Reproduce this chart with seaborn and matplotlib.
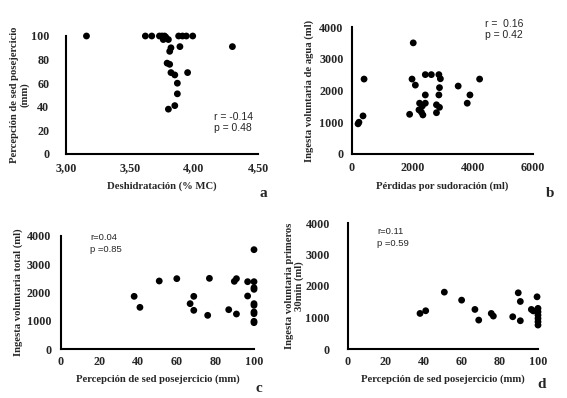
import numpy as np
import pandas as pd
import seaborn as sns
import matplotlib.pyplot as plt
from matplotlib.ticker import FuncFormatter

# panel a: deshidratacion vs percepcion de sed
deshid = [3.16, 3.62, 3.67, 3.73, 3.75, 3.77, 3.76, 3.78, 3.80, 3.88, 3.91, 3.94, 3.99,
          3.89, 4.30, 3.81, 3.82, 3.79, 3.81, 3.82, 3.85, 3.95, 3.87, 3.87, 3.85, 3.80]
sed_a = [100, 100, 100, 100, 100, 100, 97, 99, 97, 100, 100, 100, 100,
         91, 91, 87, 90, 77, 76, 69, 67, 69, 60, 51, 41, 38]

# panel b: perdidas por sudoracion vs ingesta de agua
perdidas = [200, 230, 365, 400, 1910, 2030, 1990, 2100, 2430, 2630, 2430, 2240, 2330, 2430,
            2220, 2300, 2350, 2880, 2930, 2900, 2880, 2800, 2900, 2800, 3520, 3910, 3820, 4230]
ingesta_b = [950, 1000, 1200, 2360, 1250, 3500, 2360, 2170, 2500, 2500, 1860, 1600, 1510, 1600,
             1390, 1320, 1230, 2500, 2370, 2090, 1860, 1550, 1470, 1300, 2140, 1860, 1600, 2360]

# panel c: percepcion de sed vs ingesta total
sed_c = [37.9, 40.9, 50.9, 60, 66.9, 68.8, 68.8, 76, 76.9, 86.9, 89.8, 90.9, 90.9, 96.7, 96.7,
         100, 100, 100, 100, 100, 100, 100, 100, 100, 100]
ingesta_c = [1864, 1475, 2407, 2490, 1605, 1864, 1369, 1192, 2501, 1392, 2395, 2490, 1239, 2383, 1876,
             3516, 2383, 2170, 2112, 1605, 1546, 1310, 1250, 980, 932]

# panel d: percepcion de sed vs ingesta primeros 30 min
sed_d = [37.9, 40.9, 50.7, 59.8, 66.8, 68.8, 75.4, 76.5, 86.7, 89.6, 90.7, 90.7, 96.5, 97.5,
         99.5, 100, 100, 100, 100, 100, 100]
ingesta_d = [1129, 1214, 1805, 1551, 1256, 918, 1129, 1045, 1024, 1784, 1509, 897, 1256, 1210,
             1657, 1290, 1180, 1075, 970, 865, 760]

W, H = 567, 398
sns.set_style("white")
plt.rcParams['font.family'] = ['Liberation Serif', 'DejaVu Serif']

fig = plt.figure(figsize=(W / 100, H / 100), dpi=100)


def px_axes(left, top, right, bottom):
    return fig.add_axes([left / W, 1 - bottom / H, (right - left) / W, (bottom - top) / H])


def style(ax, ypad, xpad):
    sns.despine(ax=ax)
    for s in ['left', 'bottom']:
        ax.spines[s].set_linewidth(1.5)
        ax.spines[s].set_color('black')
    ax.tick_params(axis='both', length=0, labelsize=8.7)
    ax.tick_params(axis='y', pad=ypad)
    ax.tick_params(axis='x', pad=xpad)
    for lab in ax.get_xticklabels() + ax.get_yticklabels():
        lab.set_fontweight('bold')


def fig_text(x, y, s, **kw):
    fig.text(x / W, 1 - y / H, s, **kw)


dot = dict(color='black', s=24, edgecolor='none', linewidth=0, clip_on=False)
lab = dict(fontsize=7.7, fontweight='bold')
ann = dict(fontsize=7.5, family='Liberation Sans', va='center')

# a
ax_a = px_axes(66, 36, 258, 154)
sns.scatterplot(x=deshid, y=sed_a, ax=ax_a, **dot)
ax_a.set_xlim(3.0, 4.5)
ax_a.set_ylim(0, 100)
ax_a.set_xticks([3.0, 3.5, 4.0, 4.5])
ax_a.set_yticks(range(0, 101, 20))
ax_a.xaxis.set_major_formatter(FuncFormatter(lambda v, p: f"{v:.2f}".replace('.', ',')))
style(ax_a, 12, 6)
ax_a.set_xlabel("Deshidratación (% MC)", labelpad=5, **lab)
ax_a.set_ylabel("Percepción de sed posejercicio\n(mm)", labelpad=1, linespacing=1.1, **lab)
fig_text(214, 117, "r = -0.14", **ann)
fig_text(214, 128, "p = 0.48", **ann)
fig_text(263, 193, "a", fontsize=11, fontweight='bold', ha='center', va='center')

# b
ax_b = px_axes(352, 27, 533, 154)
sns.scatterplot(x=perdidas, y=ingesta_b, ax=ax_b, **dot)
ax_b.set_xlim(0, 6000)
ax_b.set_ylim(0, 4000)
ax_b.set_xticks(range(0, 6001, 2000))
ax_b.set_yticks(range(0, 4001, 1000))
style(ax_b, 6, 6)
ax_b.set_xlabel("Pérdidas por sudoración (ml)", labelpad=5, **lab)
ax_b.set_ylabel("Ingesta voluntaria de agua (ml)", labelpad=4, **lab)
fig_text(485, 24, "r =  0.16", **ann)
fig_text(485, 35, "p = 0.42", **ann)
fig_text(550, 193, "b", fontsize=11, fontweight='bold', ha='center', va='center')

# c
ax_c = px_axes(61, 236, 254, 349)
sns.scatterplot(x=sed_c, y=ingesta_c, ax=ax_c, **dot)
ax_c.set_xlim(0, 100)
ax_c.set_ylim(0, 4000)
ax_c.set_xticks(range(0, 101, 20))
ax_c.set_yticks(range(0, 4001, 1000))
style(ax_c, 7, 5)
ax_c.set_xlabel("Percepción de sed posejercicio (mm)", labelpad=5, **lab)
ax_c.set_ylabel("Ingesta voluntaria total (ml)", labelpad=3, **lab)
fig_text(90, 237, "r=0.04", fontsize=6.8, family='Liberation Sans', va='center')
fig_text(90, 249, "p =0.85", fontsize=6.8, family='Liberation Sans', va='center')
fig_text(259, 388, "c", fontsize=11, fontweight='bold', ha='center', va='center')

# d
ax_d = px_axes(348, 223, 538, 349)
sns.scatterplot(x=sed_d, y=ingesta_d, ax=ax_d, **dot)
ax_d.set_xlim(0, 100)
ax_d.set_ylim(0, 4000)
ax_d.set_xticks(range(0, 101, 20))
ax_d.set_yticks(range(0, 4001, 1000))
style(ax_d, 13, 5)
ax_d.set_xlabel("Percepción de sed posejercicio (mm)", labelpad=5, **lab)
ax_d.set_ylabel("Ingesta voluntaria primeros\n30min (ml)", labelpad=1, linespacing=1.1, **lab)
fig_text(377, 232, "r=0.11", fontsize=6.8, family='Liberation Sans', va='center')
fig_text(377, 243, "p =0.59", fontsize=6.8, family='Liberation Sans', va='center')
fig_text(542, 384, "d", fontsize=11, fontweight='bold', ha='center', va='center')

fig.savefig("out.png", dpi=100, facecolor='white')
